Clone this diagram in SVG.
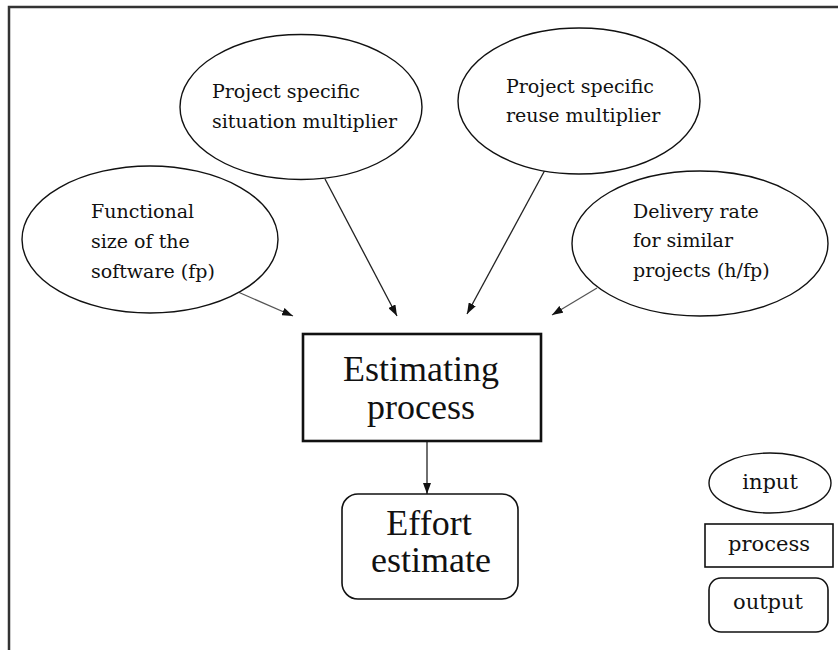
<svg xmlns="http://www.w3.org/2000/svg" width="838" height="650" viewBox="0 0 838 650">
  <defs>
    <marker id="arrow" markerUnits="userSpaceOnUse" markerWidth="11" markerHeight="8" refX="11" refY="4" orient="auto">
      <path d="M0,0 L11,4 L0,8 z" fill="#111"/>
    </marker>
    <style>
      .input { fill: #fff; stroke: #111; stroke-width: 1.4; }
      .proc { fill: #fff; stroke: #111; }
      .out { fill: #fff; stroke: #111; stroke-width: 1.6; }
      .small { font-family: "DejaVu Serif", "Liberation Serif", serif; font-size: 19px; fill: #111; }
      .legend { font-family: "DejaVu Serif", "Liberation Serif", serif; font-size: 21px; fill: #111; text-anchor: middle; }
      .big { font-family: "Liberation Serif", "Times New Roman", serif; font-size: 36px; fill: #111; text-anchor: middle; }
      .conn { stroke: #222; stroke-width: 1.3; fill: none; marker-end: url(#arrow); }
      .conn-soft { stroke: #555; stroke-width: 1.3; fill: none; marker-end: url(#arrow); }
    </style>
  </defs>

  <rect width="838" height="650" fill="#fff"/>
  <!-- outer frame, open to the right and bottom -->
  <rect x="9" y="7" width="850" height="660" fill="none" stroke="#333" stroke-width="2.5"/>

  <g id="connectors">
    <line class="conn-soft" x1="238" y1="292" x2="293" y2="316"/>
    <line class="conn" x1="325" y1="179" x2="397" y2="316"/>
    <line class="conn" x1="545" y1="170" x2="467" y2="314"/>
    <line class="conn-soft" x1="597" y1="288" x2="552" y2="315"/>
    <line class="conn" x1="427" y1="442" x2="427" y2="494"/>
  </g>

  <g id="situation-multiplier">
    <ellipse class="input" cx="301" cy="107" rx="121" ry="72.5"/>
    <text class="small" x="212" y="98">Project specific</text>
    <text class="small" x="212" y="128">situation multiplier</text>
  </g>

  <g id="reuse-multiplier">
    <ellipse class="input" cx="579" cy="101" rx="121" ry="73"/>
    <text class="small" x="506" y="93">Project specific</text>
    <text class="small" x="506" y="122">reuse multiplier</text>
  </g>

  <g id="functional-size">
    <ellipse class="input" cx="150" cy="239.5" rx="128" ry="73.5"/>
    <text class="small" x="91" y="218">Functional</text>
    <text class="small" x="91" y="248">size of the</text>
    <text class="small" x="91" y="278">software (fp)</text>
  </g>

  <g id="delivery-rate">
    <ellipse class="input" cx="700" cy="243.5" rx="128" ry="72.5"/>
    <text class="small" x="633" y="218">Delivery rate</text>
    <text class="small" x="633" y="247">for similar</text>
    <text class="small" x="633" y="277">projects (h/fp)</text>
  </g>

  <g id="estimating-process">
    <rect class="proc" x="303" y="334" width="238" height="107" stroke-width="2.6"/>
    <text class="big" x="421" y="381">Estimating</text>
    <text class="big" x="421" y="419">process</text>
  </g>

  <g id="effort-estimate">
    <rect class="out" x="342" y="494" width="176" height="105" rx="16" ry="16"/>
    <text class="big" x="429" y="535">Effort</text>
    <text class="big" x="431" y="572">estimate</text>
  </g>

  <g id="legend">
    <g id="legend-input">
      <ellipse class="input" cx="770" cy="483" rx="61" ry="30"/>
      <text class="legend" x="770" y="489">input</text>
    </g>
    <g id="legend-process">
      <rect class="proc" x="705" y="524" width="128" height="43" stroke-width="1.6"/>
      <text class="legend" x="769" y="551">process</text>
    </g>
    <g id="legend-output">
      <rect class="out" x="709" y="578" width="119" height="54" rx="12" ry="12"/>
      <text class="legend" x="768" y="609">output</text>
    </g>
  </g>
</svg>
